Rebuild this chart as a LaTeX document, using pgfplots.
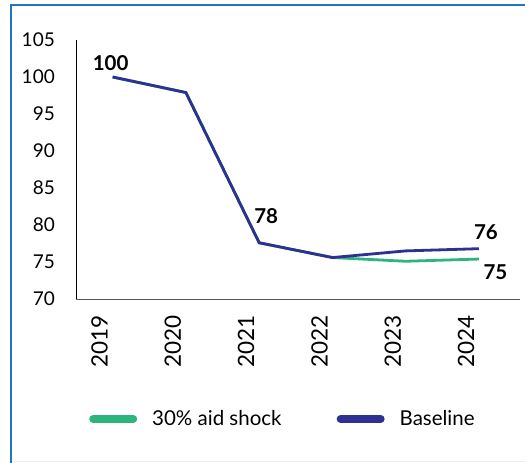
\documentclass[border=0pt]{standalone}
\usepackage{pgfplots}
\pgfplotsset{compat=1.18}
\usepackage{fontspec}
\setmainfont{Lato}
\definecolor{navy}{HTML}{2E3192}
\definecolor{grn}{HTML}{2CB67D}
\definecolor{frameblue}{HTML}{1E78C0}
\definecolor{framelight}{HTML}{E4EEF7}
\begin{document}
\begin{tikzpicture}[x=1pt,y=1pt]
\useasboundingbox (0,0) rectangle (525,463);
\draw[framelight, line width=1.5pt] (11,1.5) -- (525,1.5);
\draw[frameblue, line width=2.2pt] (11,0) -- (11,458) -- (525,458);
\begin{axis}[
  at={(76pt,164pt)}, anchor=south west,
  width=444pt, height=259pt, scale only axis,
  xmin=-0.5, xmax=5.56, ymin=70, ymax=105,
  axis x line*=bottom, axis y line*=left,
  axis line style={-},
  x axis line style={draw=black!65},
  y axis line style={draw=black, line width=0.6pt},
  ytick={70,75,...,105},
  xtick={0,...,5},
  xticklabels={2019,2020,2021,2022,2023,2024},
  major tick length=0pt,
  tick style={draw=none},
  clip=false,
  /pgf/number format/assume math mode=true,
  yticklabel style={font=\fontsize{19}{20}\selectfont, anchor=east, inner sep=0pt, xshift=-21pt},
  xticklabel style={xshift=-13pt, yshift=-16pt, rotate=90, anchor=east, inner sep=0pt, font=\fontsize{22.5}{24}\selectfont},
  legend columns=2,
  legend style={at={(0.0293,-0.4633)}, anchor=west, draw=none, fill=none,
    inner sep=0pt, font=\fontsize{20.5}{22}\selectfont,
    /tikz/every even column/.append style={column sep=53pt}},
  legend image code/.code={\path[draw=none, fill=none] (0pt,0pt) -- (61pt,0pt);\draw[#1, line width=8pt, line cap=round] (4pt,0pt) -- (44pt,0pt);},
]
\addplot[grn, line width=2.8pt] coordinates {(0,100) (1,97.9) (2,77.6) (3,75.6) (4,75.1) (5,75.4)};
\addlegendentry{30\% aid shock}
\addplot[navy, line width=2.8pt] coordinates {(0,100) (1,97.9) (2,77.6) (3,75.6) (4,76.5) (5,76.8)};
\addlegendentry{Baseline}
\node[font=\bfseries\fontsize{20.5}{22}\selectfont, xshift=-2pt, yshift=13.5pt] at (axis cs:0,100) {100};
\node[font=\bfseries\fontsize{20.5}{22}\selectfont, xshift=7pt, yshift=27pt] at (axis cs:2,77.6) {78};
\node[font=\bfseries\fontsize{20.5}{22}\selectfont, xshift=7pt, yshift=17pt] at (axis cs:5,76.8) {76};
\node[font=\bfseries\fontsize{20.5}{22}\selectfont, xshift=16.5pt, yshift=-13pt] at (axis cs:5,75.4) {75};
\end{axis}
\end{tikzpicture}
\end{document}
